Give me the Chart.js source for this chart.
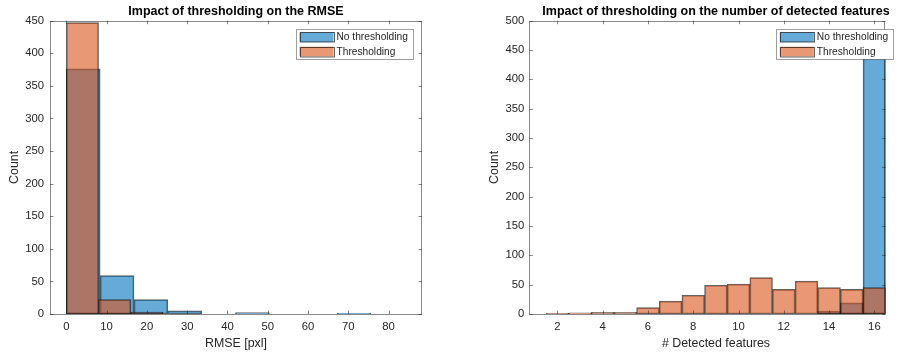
<!DOCTYPE html>
<html>
<head>
<meta charset="utf-8">
<script src="https://cdn.jsdelivr.net/npm/chart.js@4.4.1/dist/chart.umd.min.js"></script>
<style>
  html, body { margin: 0; padding: 0; background: #fff; }
  body { width: 897px; height: 355px; position: relative; overflow: hidden; }
  .wrap { position: absolute; top: 0; height: 355px; }
  #w1 { left: 0; width: 448px; }
  #w2 { left: 448px; width: 449px; }
</style>
</head>
<body>
<div class="wrap" id="w1"><canvas id="c1"></canvas></div>
<div class="wrap" id="w2"><canvas id="c2"></canvas></div>
<script>
// ---------- Data: left chart (RMSE) ----------
const rmseCentersNoThr = [4.2, 12.6, 21.0, 29.4, 37.8, 46.2, 54.6, 63.0, 71.4, 79.8];
const rmseCountsNoThr  = [376, 59, 22, 5, 0, 2, 0, 0, 1, 0];
const rmseCentersThr   = [4, 12, 20];
const rmseCountsThr    = [447, 22, 3];
const rmseXTicks = [0, 10, 20, 30, 40, 50, 60, 70, 80];
const rmseYTicks = [0, 50, 100, 150, 200, 250, 300, 350, 400, 450];

// ---------- Data: right chart (detected features) ----------
const featCentersNoThr = [14, 15, 16];
const featCountsNoThr  = [5, 19, 443];
const featCentersThr   = [2, 3, 4, 5, 6, 7, 8, 9, 10, 11, 12, 13, 14, 15, 16];
const featCountsThr    = [1, 2, 3, 3, 11, 22, 32, 49, 51, 62, 42, 56, 45, 42, 45];
const featXTicks = [2, 4, 6, 8, 10, 12, 14, 16];
const featYTicks = [0, 50, 100, 150, 200, 250, 300, 350, 400, 450, 500];

const seriesNames = ['No thresholding', 'Thresholding'];

const BLUE = 'rgba(0,114,189,0.6)';
const ORANGE = 'rgba(217,83,25,0.6)';
const EDGE = 'rgba(0,0,0,0.62)';
const TXT = '#262626';
const FONT = "'Liberation Sans', Arial, Helvetica, sans-serif";

const toPts = (xs, ys) => xs.map((x, i) => ({ x: x, y: ys[i] }));

// Box, inner ticks, title, x label, legend
const matlabPlugin = {
  id: 'matlab',
  afterDatasetsDraw(chart, args, opts) {
    const ctx = chart.ctx;
    const a = chart.chartArea;
    const xs = chart.scales.x, ys = chart.scales.y;
    ctx.save();
    // box
    ctx.strokeStyle = 'rgba(38,38,38,0.55)';
    ctx.lineWidth = 1;
    ctx.strokeRect(Math.round(a.left) + 0.5, Math.round(a.top) + 0.5,
                   Math.round(a.right - a.left) - 1, Math.round(a.bottom - a.top));
    // ticks inside
    const tl = 3.5;
    ctx.beginPath();
    xs.ticks.forEach(t => {
      const px = Math.round(xs.getPixelForValue(t.value)) + 0.5;
      ctx.moveTo(px, a.bottom); ctx.lineTo(px, a.bottom - tl);
      ctx.moveTo(px, a.top); ctx.lineTo(px, a.top + tl);
    });
    ys.ticks.forEach(t => {
      const py = Math.round(ys.getPixelForValue(t.value)) + 0.5;
      ctx.moveTo(a.left, py); ctx.lineTo(a.left + tl, py);
      ctx.moveTo(a.right, py); ctx.lineTo(a.right - tl, py);
    });
    ctx.stroke();

    // title
    const cx = (a.left + a.right) / 2 + opts.dx;
    ctx.fillStyle = '#000';
    ctx.font = 'bold 12.5px ' + FONT;
    ctx.textAlign = 'center';
    ctx.textBaseline = 'middle';
    ctx.fillText(opts.title, cx, 11.5);
    // x label
    ctx.fillStyle = TXT;
    ctx.font = '12.4px ' + FONT;
    ctx.fillText(opts.xlabel, cx, 344);

    // legend
    const lw = 116.7, lh = 30;
    const lx = a.right + opts.legendDx - lw;
    const ly = a.top + 8.6;
    ctx.fillStyle = '#fff';
    ctx.fillRect(lx, ly, lw, lh);
    ctx.strokeStyle = 'rgba(38,38,38,0.45)';
    ctx.strokeRect(Math.round(lx) + 0.5, Math.round(ly) + 0.5, Math.round(lw), Math.round(lh));
    const fills = [BLUE, ORANGE];
    ctx.font = '10.2px ' + FONT;
    ctx.textAlign = 'left';
    for (let i = 0; i < 2; i++) {
      const py = ly + 3 + i * 14.4;
      ctx.fillStyle = fills[i];
      ctx.fillRect(lx + 3.5, py, 34, 9.7);
      ctx.strokeStyle = EDGE;
      ctx.strokeRect(Math.round(lx + 3.5) + 0.5, Math.round(py) + 0.5, 34, 9.5);
      ctx.fillStyle = TXT;
      ctx.fillText(seriesNames[i], lx + 40.5, py + 5.2);
    }
    ctx.restore();
  }
};

function makeChart(id, cfg) {
  const tickFont = { family: FONT, size: 11.3 };
  const xAxis = (display, min, max, ticks) => ({
    type: 'linear', display: display, min: min, max: max, offset: false,
    grid: { display: false, drawTicks: false, offset: false },
    border: { display: false },
    afterBuildTicks: s => { s.ticks = ticks.map(v => ({ value: v })); },
    afterFit: s => { if (display) s.height = 41; },
    ticks: { font: tickFont, color: TXT, padding: 6, maxRotation: 0, autoSkip: false }
  });
  return new Chart(document.getElementById(id), {
    type: 'bar',
    data: {
      datasets: [
        { label: seriesNames[0], data: toPts(cfg.cNo, cfg.vNo), xAxisID: 'x2',
          backgroundColor: BLUE, borderColor: EDGE, borderWidth: 1, borderSkipped: false,
          barPercentage: 1, categoryPercentage: 1, grouped: false, order: 1 },
        { label: seriesNames[1], data: toPts(cfg.cThr, cfg.vThr), xAxisID: 'x',
          backgroundColor: ORANGE, borderColor: EDGE, borderWidth: 1, borderSkipped: false,
          barPercentage: 1, categoryPercentage: 1, grouped: false, order: 0 }
      ]
    },
    options: {
      responsive: true, maintainAspectRatio: false, animation: false,
      layout: { padding: { top: 20.7, right: cfg.padRight, left: 0, bottom: 0 } },
      plugins: {
        legend: { display: false }, tooltip: { enabled: false }, title: { display: false },
        matlab: { title: cfg.title, xlabel: cfg.xlabel, dx: cfg.dx, legendDx: cfg.legendDx }
      },
      scales: {
        x: xAxis(true, cfg.xmin, cfg.xmax, cfg.xticks),
        x2: xAxis(false, cfg.xmin, cfg.xmax, cfg.xticks),
        y: {
          type: 'linear', min: 0, max: cfg.ymax,
          grid: { display: false, drawTicks: false },
          border: { display: false },
          afterBuildTicks: s => { s.ticks = cfg.yticks.map(v => ({ value: v })); },
          afterFit: s => { s.width = cfg.yWidth; },
          ticks: { font: tickFont, color: TXT, padding: cfg.yPad },
          title: { display: true, text: 'Count', color: TXT,
                   font: { family: FONT, size: 12.4 }, padding: { top: cfg.yTitlePad, bottom: 0 } }
        }
      }
    },
    plugins: [matlabPlugin]
  });
}

makeChart('c1', {
  cNo: rmseCentersNoThr, vNo: rmseCountsNoThr, cThr: rmseCentersThr, vThr: rmseCountsThr,
  xmin: -4.05, xmax: 88.3, xticks: rmseXTicks, ymax: 450, yticks: rmseYTicks,
  yWidth: 50, yPad: 6, yTitlePad: 7.5, padRight: 26,
  title: 'Impact of thresholding on the RMSE', xlabel: 'RMSE [pxl]', dx: 0, legendDx: -9.3
});
makeChart('c2', {
  cNo: featCentersNoThr, vNo: featCountsNoThr, cThr: featCentersThr, vThr: featCountsThr,
  xmin: 0.76, xmax: 16.5, xticks: featXTicks, ymax: 500, yticks: featYTicks,
  yWidth: 81.3, yPad: 5, yTitlePad: 39.5, padRight: 11.3,
  title: 'Impact of thresholding on the number of detected features', xlabel: '# Detected features',
  dx: 8.5, legendDx: 7.3
});
</script>
</body>
</html>
